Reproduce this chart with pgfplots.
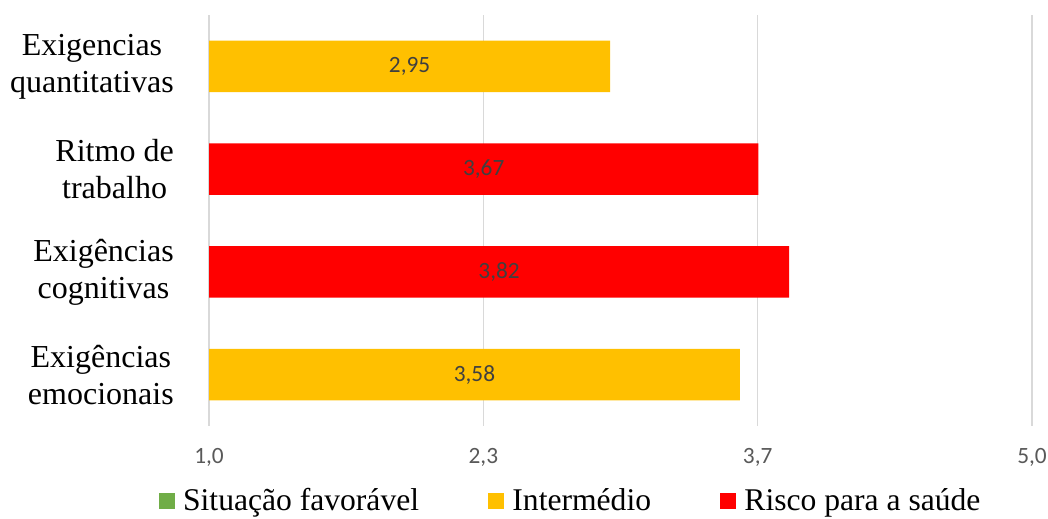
\documentclass[border=0pt]{standalone}
\usepackage{pgfplots}
\pgfplotsset{compat=1.18}
\usepackage{fontspec}
\setmainfont{Liberation Serif}
\newfontfamily\carlito{Carlito}

\definecolor{favgreen}{HTML}{70AD47}
\definecolor{midyellow}{HTML}{FFC000}
\definecolor{riskred}{HTML}{FF0000}
\definecolor{gridgray}{HTML}{D9D9D9}
\definecolor{ticktext}{HTML}{595959}
\definecolor{labeltext}{HTML}{404040}

\pgfplotsset{
  sqlegend/.style={legend image code/.code={\fill[##1] (0pt,-6pt) rectangle (12pt,6pt);}},
}

\begin{document}
\begin{tikzpicture}
\useasboundingbox (0,0) rectangle (786pt,388.5pt);
\begin{axis}[
  at={(156.75pt,69pt)}, anchor=south west,
  scale only axis, width=617.25pt, height=308.25pt,
  xbar, bar width=0.5, bar shift=0pt,
  xmin=1, xmax=5,
  ymin=-0.5, ymax=3.5, y dir=reverse,
  xtick={1,2.333333,3.666667,5},
  xticklabels={{1,0},{2,3},{3,7},{5,0}},
  ytick={0,1,2,3},
  yticklabels={{Exigencias\\quantitativas},{Ritmo de\\trabalho},{Exigências\\cognitivas},{Exigências\\emocionais}},
  axis line style={draw=none},
  tick style={draw=none},
  xmajorgrids, major grid style={color=gridgray, line width=1pt},
  xticklabel style={font=\carlito\fontsize{17.5}{20}\selectfont, text=ticktext, anchor=center, yshift=-23.25pt},
  yticklabel style={font=\fontsize{24}{27.7}\selectfont, align=center, inner sep=0pt, anchor=east, xshift=-22pt},
  /pgf/number format/assume math mode=true,
  point meta=x,
  visualization depends on={x \as \rawx},
  nodes near coords={\pgfmathprintnumber[fixed, fixed zerofill, precision=2, use comma, assume math mode=true]{\pgfplotspointmeta}},
  every node near coord/.append style={font=\carlito\fontsize{17.5}{20}\selectfont, text=labeltext, anchor=center, xshift={-(\rawx-1)*77.15625pt}},
  legend columns=3,
  legend style={at={(0.44,-0.182)}, anchor=center, draw=none, fill=none,
    font=\fontsize{23.7}{26}\selectfont,
    /tikz/every odd column/.append style={column sep=4pt},
    /tikz/every even column/.append style={column sep=50pt}},
]
\addlegendimage{sqlegend, fill=favgreen, draw=none}
\addlegendentry{Situação favorável}
\addplot[sqlegend, fill=midyellow, draw=none] coordinates {(2.95,0) (3.58,3)};
\addlegendentry{Intermédio}
\addplot[sqlegend, fill=riskred, draw=none] coordinates {(3.67,1) (3.82,2)};
\addlegendentry{Risco para a saúde}
\end{axis}
\end{tikzpicture}
\end{document}
